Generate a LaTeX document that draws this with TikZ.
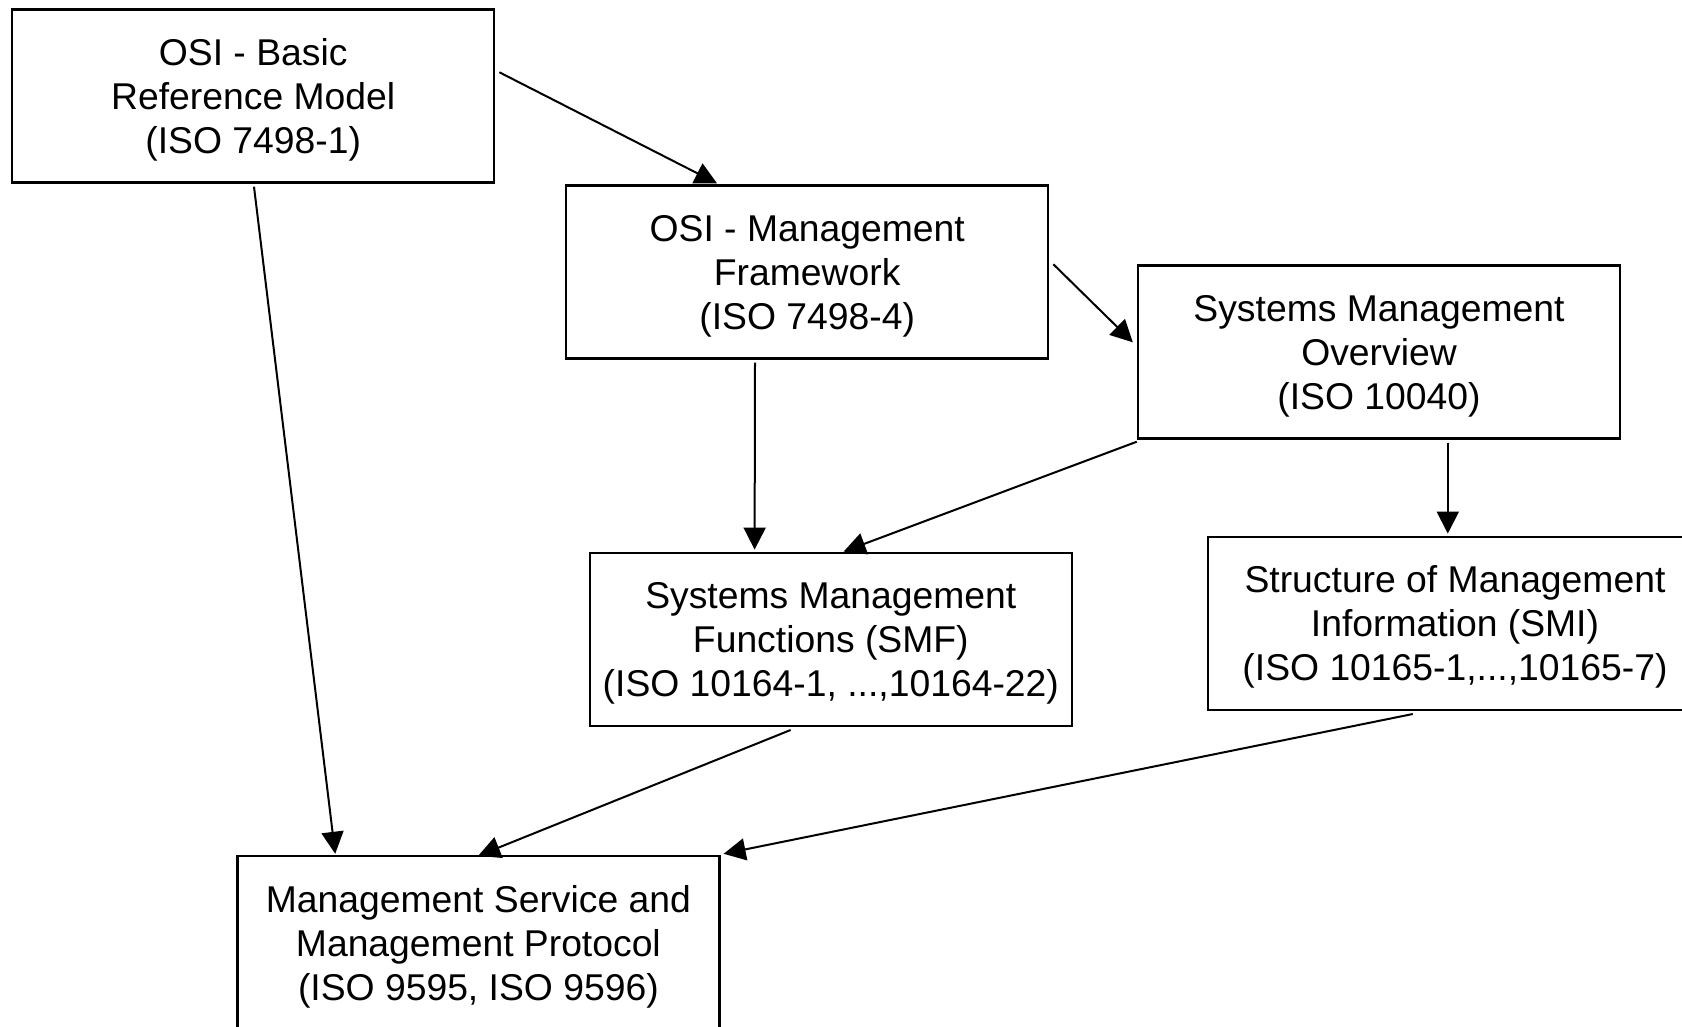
\documentclass[tikz,border=0pt]{standalone}
\usepackage{fontspec}
\setmainfont{Liberation Sans}
\usetikzlibrary{arrows.meta,calc}
\begin{document}
\begin{tikzpicture}[x=1pt,y=-1pt,
  box/.style={draw=black,line width=2.4pt,fill=white,minimum width=482pt,minimum height=173pt,
    inner sep=0pt,align=center,text depth=-1pt,font=\fontsize{37.3}{44}\selectfont},
  arr/.style={line width=2pt,-{Triangle[length=22pt,width=22pt]}}]
\useasboundingbox (0,0) rectangle (1682,1027);
\node[box] (b1) at (253.2,96) {OSI - Basic\\Reference Model\\(ISO 7498-1)};
\node[box] (b2) at (807.2,272) {OSI - Management\\Framework\\(ISO 7498-4)};
\node[box] (b3) at (1379,352) {Systems Management\\Overview\\(ISO 10040)};
\node[box] (b4) at (830.8,639.3) {Systems Management\\Functions (SMF)\\(ISO 10164-1, ...,10164-22)};
\node[box,minimum width=494pt] (b5) at (1455,623.3) {Structure of Management\\Information (SMI)\\(ISO 10165-1,...,10165-7)};
\node[box] (b6) at (478.4,942.5) {Management Service and\\Management Protocol\\(ISO 9595, ISO 9596)};
\draw[arr] ($(b1.north east)+(4,64)$) -- ($(b2.north west)+(152,-1)$);
\draw[arr] ($(b1.south west)+(243,3)$) -- ($(b6.north west)+(99,-1)$);
\draw[arr] ($(b2.north east)+(4,80)$) -- ($(b3.north west)+(-4,78)$);
\draw[arr] ($(b2.south west)+(190,3)$) -- ($(b4.north west)+(166,-2)$);
\draw[arr] ($(b3.south west)+(0,2)$) -- ($(b4.north west)+(255,0)$);
\draw[arr] ($(b3.south west)+(311,3)$) -- ($(b5.north west)+(241,-2)$);
\draw[arr] ($(b4.south west)+(202,3)$) -- ($(b6.north west)+(242,1)$);
\draw[arr] ($(b5.south west)+(206,3)$) -- ($(b6.north east)+(3,-1)$);
\end{tikzpicture}
\end{document}
